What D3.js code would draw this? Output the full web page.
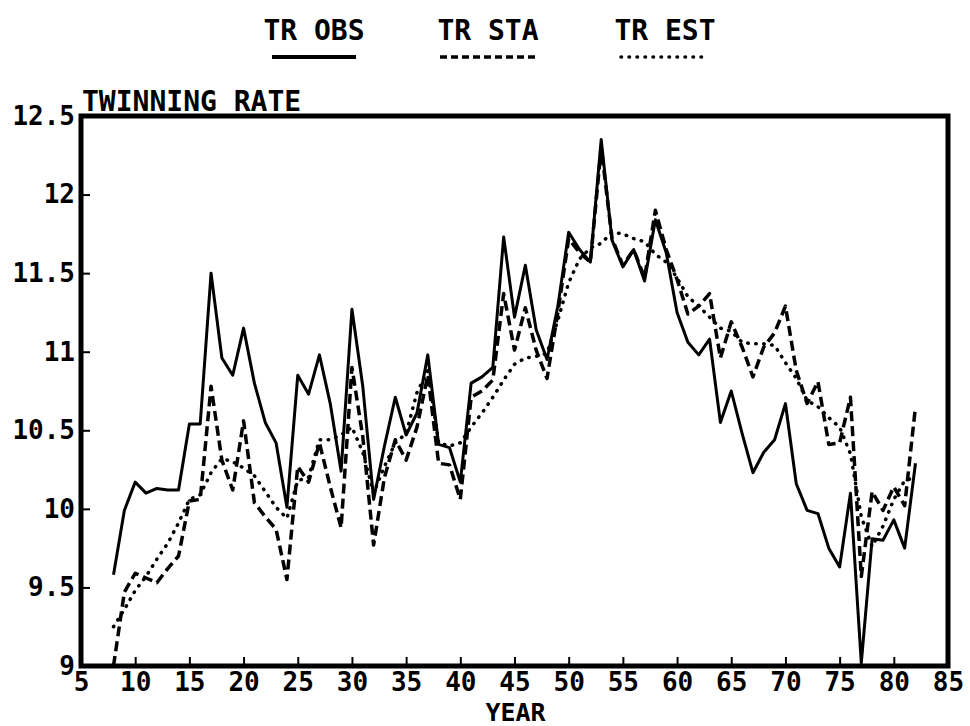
<!DOCTYPE html>
<html>
<head>
<meta charset="utf-8">
<script src="https://cdn.jsdelivr.net/npm/d3@7"></script>
<style>
  body { margin: 0; background: #fff; }
  text { font-family: "DejaVu Sans Mono", monospace; font-weight: bold; fill: #000; }
</style>
</head>
<body>
<svg width="970" height="726"></svg>
<script>
// years 1908 - 1982 (two digits as on the chart)
const years = [8, 9, 10, 11, 12, 13, 14, 15, 16, 17, 18, 19, 20, 21, 22, 23, 24, 25, 26, 27,
  28, 29, 30, 31, 32, 33, 34, 35, 36, 37, 38, 39, 40, 41, 42, 43, 44, 45, 46, 47,
  48, 49, 50, 51, 52, 53, 54, 55, 56, 57, 58, 59, 60, 61, 62, 63, 64, 65, 66, 67,
  68, 69, 70, 71, 72, 73, 74, 75, 76, 77, 78, 79, 80, 81, 82];

const trObs = [9.58, 9.99, 10.17, 10.10, 10.13, 10.12, 10.12, 10.54, 10.54, 11.50, 10.96, 10.85, 11.15, 10.80, 10.55, 10.42, 10.01, 10.85, 10.73, 10.98,
  10.67, 10.24, 11.27, 10.78, 10.06, 10.40, 10.71, 10.47, 10.61, 10.98, 10.41, 10.39, 10.17, 10.80, 10.84, 10.90, 11.73, 11.22, 11.55, 11.14,
  10.95, 11.29, 11.76, 11.65, 11.57, 12.35, 11.71, 11.54, 11.65, 11.45, 11.84, 11.63, 11.25, 11.06, 10.98, 11.08, 10.55, 10.75, 10.48, 10.23,
  10.36, 10.44, 10.67, 10.16, 9.99, 9.97, 9.75, 9.63, 10.10, 9.02, 9.81, 9.80, 9.93, 9.75, 10.29];

const trSta = [9.00, 9.47, 9.59, 9.56, 9.53, 9.62, 9.70, 10.05, 10.06, 10.78, 10.31, 10.12, 10.56, 10.04, 9.95, 9.87, 9.55, 10.27, 10.17, 10.42,
  10.14, 9.88, 10.90, 10.46, 9.77, 10.20, 10.44, 10.31, 10.52, 10.85, 10.29, 10.28, 10.06, 10.71, 10.75, 10.82, 11.37, 11.01, 11.28, 11.01,
  10.83, 11.25, 11.72, 11.63, 11.57, 12.30, 11.72, 11.55, 11.65, 11.47, 11.90, 11.65, 11.46, 11.24, 11.29, 11.37, 10.96, 11.19, 11.03, 10.84,
  11.03, 11.12, 11.29, 10.88, 10.67, 10.81, 10.41, 10.42, 10.71, 9.57, 10.11, 9.99, 10.14, 10.02, 10.65];

const trEst = [9.25, 9.36, 9.48, 9.57, 9.68, 9.78, 9.91, 10.06, 10.09, 10.23, 10.32, 10.30, 10.26, 10.21, 10.11, 10.01, 9.94, 10.18, 10.20, 10.44,
  10.44, 10.47, 10.52, 10.36, 10.10, 10.27, 10.42, 10.48, 10.74, 10.88, 10.42, 10.40, 10.42, 10.52, 10.61, 10.71, 10.82, 10.92, 10.96, 10.97,
  10.99, 11.20, 11.44, 11.59, 11.66, 11.69, 11.76, 11.75, 11.72, 11.70, 11.62, 11.57, 11.47, 11.35, 11.29, 11.22, 11.15, 11.13, 11.06, 11.05,
  11.05, 11.04, 10.93, 10.83, 10.69, 10.65, 10.58, 10.52, 10.35, 9.95, 9.76, 9.89, 10.06, 10.18, 10.20];

const xTicks = [5, 10, 15, 20, 25, 30, 35, 40, 45, 50, 55, 60, 65, 70, 75, 80, 85];
const yTicks = [9, 9.5, 10, 10.5, 11, 11.5, 12, 12.5];

const seriesNames = ["TR OBS", "TR STA", "TR EST"];
const seriesDash = [null, "10,5", "0.5,7.5"];
const legendDash = [null, "7,4", "0.5,7.5"];
// legend sample line ends, relative to the label centre
const legendLineX1 = [-42, -48, -44];
const legendLineX2 = [42, 48, 44];

const svg = d3.select("svg");

const plotLeft = 81, plotRight = 948, plotTop = 116, plotBottom = 666;

const x = d3.scaleLinear().domain([5, 85]).range([plotLeft, plotRight]);
const y = d3.scaleLinear().domain([9, 12.5]).range([plotBottom, plotTop]);

// axes, ticks point inward
const xAxis = d3.axisBottom(x)
  .tickValues(xTicks)
  .tickFormat(d => String(d))
  .tickSizeInner(-9)
  .tickSizeOuter(0)
  .tickPadding(7);

const yAxis = d3.axisLeft(y)
  .tickValues(yTicks)
  .tickFormat(d => String(d))
  .tickSizeInner(-9)
  .tickSizeOuter(0)
  .tickPadding(6);

const gx = svg.append("g")
  .attr("transform", `translate(0,${plotBottom})`)
  .call(xAxis);
const gy = svg.append("g")
  .attr("transform", `translate(${plotLeft},0)`)
  .call(yAxis);

[gx, gy].forEach(g => {
  g.select(".domain").remove();
  g.selectAll(".tick line").attr("stroke", "#000").attr("stroke-width", 2);
  g.selectAll(".tick text")
    .style("font-family", "'DejaVu Sans Mono', monospace")
    .style("font-weight", "bold")
    .style("font-size", "26px")
    .attr("fill", "#000");
});

// frame
svg.append("rect")
  .attr("x", plotLeft)
  .attr("y", plotTop)
  .attr("width", plotRight - plotLeft)
  .attr("height", plotBottom - plotTop)
  .attr("fill", "none")
  .attr("stroke", "#000")
  .attr("stroke-width", 5);

// lines
const allSeries = [trObs, trSta, trEst];
const line = d3.line()
  .x((d, i) => x(years[i]))
  .y(d => y(d));

svg.append("g")
  .selectAll("path")
  .data(allSeries)
  .enter()
  .append("path")
  .attr("d", d => line(d))
  .attr("fill", "none")
  .attr("stroke", "#000")
  .attr("stroke-width", (d, i) => (i === 0 ? 3 : 3.5))
  .attr("stroke-linejoin", "round")
  .attr("stroke-linecap", (d, i) => (i === 2 ? "round" : "butt"))
  .attr("stroke-dasharray", (d, i) => seriesDash[i]);

// titles
svg.append("text")
  .attr("x", 82)
  .attr("y", 111)
  .style("font-size", "28px")
  .text("TWINNING RATE");

svg.append("text")
  .attr("x", (plotLeft + plotRight) / 2 + 1)
  .attr("y", 721)
  .attr("text-anchor", "middle")
  .style("font-size", "25px")
  .text("YEAR");

// legend
const legendX = [314, 488, 665];
const legend = svg.append("g")
  .selectAll("g")
  .data(seriesNames)
  .enter()
  .append("g")
  .attr("transform", (d, i) => `translate(${legendX[i]},0)`);

legend.append("text")
  .attr("y", 40)
  .attr("text-anchor", "middle")
  .style("font-size", "28px")
  .text(d => d);

legend.append("line")
  .attr("x1", (d, i) => legendLineX1[i])
  .attr("x2", (d, i) => legendLineX2[i])
  .attr("y1", 57)
  .attr("y2", 57)
  .attr("stroke", "#000")
  .attr("stroke-width", (d, i) => (i === 0 ? 4 : 3.5))
  .attr("stroke-linecap", (d, i) => (i === 2 ? "round" : "butt"))
  .attr("stroke-dasharray", (d, i) => legendDash[i]);
</script>
</body>
</html>
